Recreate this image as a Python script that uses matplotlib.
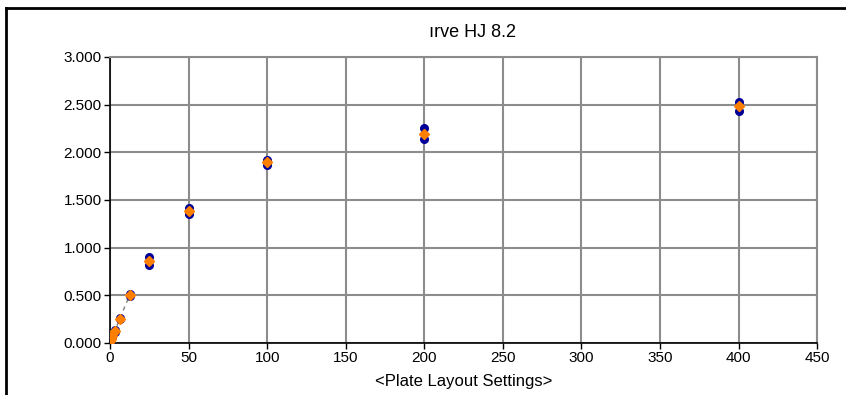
import numpy as np
import matplotlib
matplotlib.use('Agg')
from matplotlib import pyplot as plt
from matplotlib.lines import Line2D
from matplotlib.ticker import FormatStrFormatter

plt.rcParams['font.family'] = ['Liberation Sans', 'DejaVu Sans']

# concentrations and replicate readings
conc = [0, 0.78, 1.56, 3.125, 6.25, 12.5, 25, 50, 100, 200, 400]
rep1 = [0.02, 0.05, 0.08, 0.13, 0.26, 0.51, 0.90, 1.41, 1.92, 2.25, 2.53]
rep2 = [0.02, 0.04, 0.06, 0.11, 0.25, 0.49, 0.82, 1.35, 1.87, 2.14, 2.43]
mean = [(a + b) / 2 for a, b in zip(rep1, rep2)]
# dashed trend only spans the low standards
n_trend = 6

title = 'ırve HJ 8.2'
xlabel = '<Plate Layout Settings>'

fig = plt.figure(figsize=(8.46, 3.95), dpi=100)
ax = fig.add_axes([0.130, 0.132, 0.836, 0.724])

ax.plot(conc[:n_trend], mean[:n_trend], linestyle=(0, (3, 3)), color='#808080',
        linewidth=1, zorder=2)
ax.plot(conc, rep1, 'o', color='#000099', markersize=5.5, zorder=3, linestyle='none')
ax.plot(conc, rep2, 'o', color='#000099', markersize=5.5, zorder=3, linestyle='none')
ax.plot(conc, mean, 'D', color='#FF8000', markersize=5.5, zorder=4, linestyle='none')

ax.set_xlim(0, 450)
ax.set_ylim(0, 3)
ax.set_xticks(np.arange(0, 451, 50))
ax.set_yticks(np.arange(0, 3.01, 0.5))
ax.yaxis.set_major_formatter(FormatStrFormatter('%.3f'))
ax.grid(True, color='#8c8c8c', linewidth=1.5)
ax.set_axisbelow(True)
for s in ['top', 'right']:
    ax.spines[s].set_color('#8c8c8c')
    ax.spines[s].set_linewidth(1.5)
for s in ['left', 'bottom']:
    ax.spines[s].set_color('black')
    ax.spines[s].set_linewidth(1.2)
ax.tick_params(direction='out', length=4, width=1, labelsize=11, pad=2)
ax.set_xlabel(xlabel, fontsize=12, labelpad=6)

fig.text(0.558, 0.918, title, fontsize=13, ha='center', va='center')

# outer chart border (top and left visible)
fig.add_artist(Line2D([0.007, 1.0], [0.981, 0.981], color='black', linewidth=2))
fig.add_artist(Line2D([0.007, 0.007], [0.0, 0.981], color='black', linewidth=2))

plt.savefig('out.png', dpi=100)
